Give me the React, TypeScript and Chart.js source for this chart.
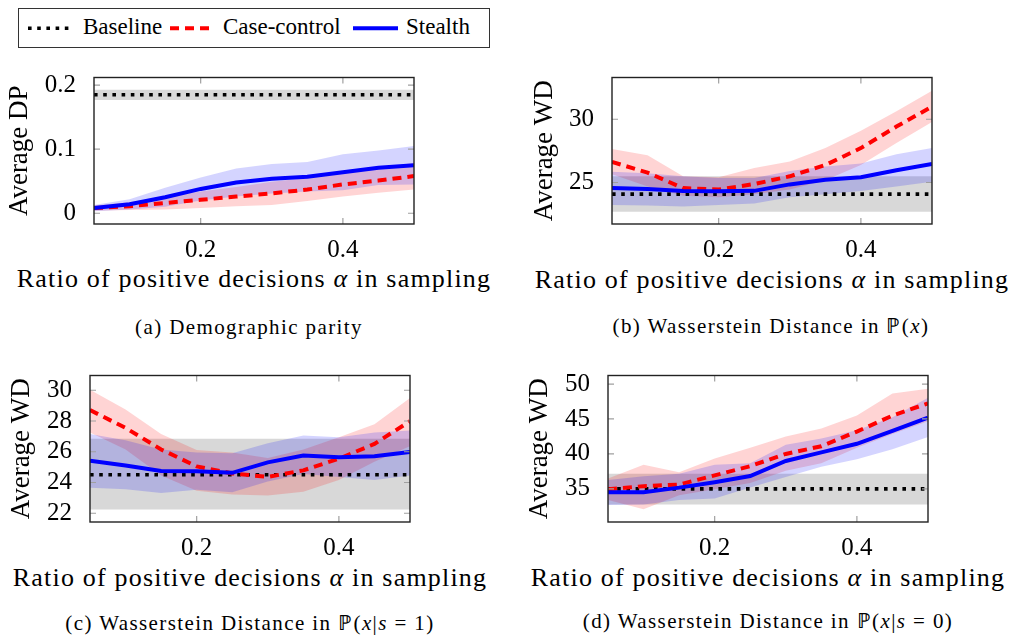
import React, { useEffect, useRef } from 'react';
import { Chart, registerables } from 'chart.js';

Chart.register(...registerables);

const FONT = "'Liberation Serif', 'Times New Roman', serif";

// shared x values (ratio of positive decisions alpha)
const ALPHA = [0.05, 0.1, 0.15, 0.2, 0.25, 0.3, 0.35, 0.4, 0.45, 0.5];
const X_TICKS = [0.2, 0.4];

// (a) Demographic parity
const A_STEALTH = [0.008, 0.014, 0.025, 0.038, 0.048, 0.054, 0.057, 0.064, 0.071, 0.075];
const A_STEALTH_HI = [0.013, 0.022, 0.040, 0.056, 0.070, 0.077, 0.080, 0.092, 0.098, 0.105];
const A_STEALTH_LO = [0.003, 0.006, 0.010, 0.020, 0.026, 0.031, 0.034, 0.036, 0.044, 0.045];
const A_CASE = [0.008, 0.011, 0.016, 0.021, 0.026, 0.031, 0.037, 0.045, 0.051, 0.058];
const A_CASE_HI = [0.012, 0.017, 0.026, 0.034, 0.041, 0.049, 0.055, 0.064, 0.070, 0.079];
const A_CASE_LO = [0.004, 0.005, 0.006, 0.008, 0.011, 0.013, 0.019, 0.026, 0.032, 0.037];
const A_BASE = 0.185;
const A_BASE_HI = 0.193;
const A_BASE_LO = 0.177;
const A_Y_TICKS = [0, 0.1, 0.2];

// (b) Wasserstein distance in P(x)
const B_STEALTH = [24.56, 24.49, 24.32, 24.3, 24.34, 24.85, 25.22, 25.41, 25.97, 26.46];
const B_STEALTH_HI = [25.85, 25.73, 25.49, 25.36, 25.36, 25.9, 26.26, 26.5, 27.23, 27.72];
const B_STEALTH_LO = [23.23, 23.18, 23.1, 23.23, 23.35, 23.83, 24.08, 24.32, 24.68, 25.05];
const B_CASE = [26.63, 25.78, 24.56, 24.44, 24.88, 25.49, 26.38, 27.72, 29.42, 31.0];
const B_CASE_HI = [27.65, 27.16, 25.49, 25.41, 26.14, 26.67, 27.72, 29.1, 30.63, 32.26];
const B_CASE_LO = [25.66, 24.68, 23.96, 23.83, 24.08, 24.44, 25.17, 26.38, 28.13, 29.78];
const B_BASE = 24.08;
const B_BASE_HI = 25.49;
const B_BASE_LO = 22.69;
const B_Y_TICKS = [25, 30];

// (c) Wasserstein distance in P(x|s=1)
const C_STEALTH = [25.41, 25.11, 24.75, 24.73, 24.63, 25.31, 25.75, 25.65, 25.71, 25.99];
const C_STEALTH_HI = [27.15, 26.75, 26.15, 25.95, 25.91, 26.55, 27.05, 26.95, 27.25, 27.39];
const C_STEALTH_LO = [23.66, 23.56, 23.32, 23.52, 23.36, 24.06, 24.55, 24.36, 24.16, 24.46];
const C_CASE = [28.71, 27.55, 26.15, 25.05, 24.59, 24.36, 24.79, 25.55, 26.51, 27.99];
const C_CASE_HI = [30.04, 28.75, 27.15, 26.11, 25.95, 25.59, 26.15, 26.95, 27.79, 29.5];
const C_CASE_LO = [27.25, 26.15, 24.46, 23.46, 23.22, 23.16, 23.4, 24.16, 25.35, 26.35];
const C_BASE = 24.5;
const C_BASE_HI = 26.85;
const C_BASE_LO = 22.24;
const C_Y_TICKS = [22, 24, 26, 28, 30];

// (d) Wasserstein distance in P(x|s=0)
const D_STEALTH = [34.52, 34.52, 35.18, 35.96, 36.84, 38.99, 40.22, 41.45, 43.29, 45.18];
const D_STEALTH_HI = [36.27, 36.8, 37.15, 38.46, 38.68, 41.32, 42.19, 43.38, 45.26, 48.03];
const D_STEALTH_LO = [32.68, 32.76, 33.42, 33.64, 35.18, 36.71, 38.16, 39.25, 40.66, 42.41];
const D_CASE = [34.96, 35.39, 35.61, 36.93, 38.25, 40.0, 41.1, 43.2, 45.48, 47.24];
const D_CASE_HI = [36.49, 38.46, 37.37, 39.34, 40.88, 42.5, 43.64, 45.48, 48.64, 49.34];
const D_CASE_LO = [33.42, 32.1, 34.08, 34.96, 35.83, 37.59, 38.68, 40.88, 42.85, 44.69];
const D_BASE = 35.0;
const D_BASE_HI = 37.15;
const D_BASE_LO = 32.76;
const D_Y_TICKS = [35, 40, 45, 50];

type Spec = {
  plotLeft: number;
  plotTop: number;
  yMin: number;
  yMax: number;
  yTicks: number[];
  yTitle: string;
  yTitlePad: number;
  stealth: number[];
  stealthHi: number[];
  stealthLo: number[];
  caseC: number[];
  caseHi: number[];
  caseLo: number[];
  base: number;
  baseHi: number;
  baseLo: number;
};

const framePlugin = {
  id: 'frame',
  afterDatasetsDraw(chart: any) {
    const { ctx, chartArea: a, scales } = chart;
    ctx.save();
    ctx.strokeStyle = '#a0a0a0';
    ctx.lineWidth = 1.2;
    const L = 6;
    for (const t of scales.x.ticks) {
      const px = scales.x.getPixelForValue(t.value);
      ctx.beginPath();
      ctx.moveTo(px, a.top);
      ctx.lineTo(px, a.top + L);
      ctx.moveTo(px, a.bottom);
      ctx.lineTo(px, a.bottom - L);
      ctx.stroke();
    }
    for (const t of scales.y.ticks) {
      const py = scales.y.getPixelForValue(t.value);
      ctx.beginPath();
      ctx.moveTo(a.left, py);
      ctx.lineTo(a.left + L, py);
      ctx.moveTo(a.right, py);
      ctx.lineTo(a.right - L, py);
      ctx.stroke();
    }
    ctx.strokeStyle = '#222';
    ctx.lineWidth = 1.4;
    ctx.strokeRect(a.left, a.top, a.right - a.left, a.bottom - a.top);
    ctx.restore();
  },
};

const CW = 425;
const CH = 209;

function Panel({ s }: { s: Spec }) {
  const ref = useRef<HTMLCanvasElement>(null);
  useEffect(() => {
    const pts = (arr: number[]) => ALPHA.map((x, i) => ({ x, y: arr[i] }));
    const flat = (v: number) => ALPHA.map((x) => ({ x, y: v }));
    const band = (data: any, color: string, order: number, fill: any) => ({
      data,
      borderWidth: 0,
      borderColor: 'rgba(0,0,0,0)',
      backgroundColor: color,
      pointRadius: 0,
      fill,
      order,
    });
    const chart = new Chart(ref.current as HTMLCanvasElement, {
      type: 'line',
      data: {
        datasets: [
          { data: pts(s.stealth), borderColor: '#0000ff', borderWidth: 4, pointRadius: 0, fill: false, order: 1 },
          { data: pts(s.caseC), borderColor: '#ff0000', borderWidth: 4, borderDash: [9, 6], pointRadius: 0, fill: false, order: 2 },
          { data: flat(s.base), borderColor: '#000000', borderWidth: 3.6, borderDash: [3.6, 5.6], pointRadius: 0, fill: false, order: 3 },
          band(pts(s.stealthHi), 'rgba(0,0,255,0.17)', 4, '+1'),
          band(pts(s.stealthLo), 'rgba(0,0,0,0)', 4, false),
          band(pts(s.caseHi), 'rgba(255,0,0,0.17)', 5, '+1'),
          band(pts(s.caseLo), 'rgba(0,0,0,0)', 5, false),
          band(flat(s.baseHi), 'rgb(216,216,216)', 6, '+1'),
          band(flat(s.baseLo), 'rgba(0,0,0,0)', 6, false),
        ] as any,
      },
      options: {
        animation: false,
        responsive: false,
        layout: { padding: { top: 10, right: 15, left: 0, bottom: 0 } },
        plugins: { legend: { display: false }, tooltip: { enabled: false } },
        elements: { line: { tension: 0, borderCapStyle: 'butt' } },
        scales: {
          x: {
            type: 'linear',
            min: 0.05,
            max: 0.5,
            grid: { display: false },
            border: { display: false },
            afterBuildTicks: (sc: any) => {
              sc.ticks = X_TICKS.map((v) => ({ value: v }));
            },
            afterFit: (sc: any) => {
              sc.height = 40;
            },
            ticks: {
              autoSkip: false,
              maxRotation: 0,
              padding: 5.5,
              color: '#000',
              font: { family: FONT, size: 25, lineHeight: 1 },
              callback: (v: any) => String(v),
            },
          },
          y: {
            type: 'linear',
            min: s.yMin,
            max: s.yMax,
            grid: { display: false },
            border: { display: false },
            afterBuildTicks: (sc: any) => {
              sc.ticks = s.yTicks.map((v) => ({ value: v }));
            },
            afterFit: (sc: any) => {
              sc.width = 90;
            },
            ticks: {
              autoSkip: false,
              padding: 10,
              color: '#000',
              font: { family: FONT, size: 25, lineHeight: 1 },
              callback: (v: any) => String(v),
            },
            title: {
              display: true,
              text: s.yTitle,
              color: '#000',
              font: { family: FONT, size: 27, lineHeight: 1 },
              padding: { top: s.yTitlePad, bottom: 0 },
            },
          },
        },
      } as any,
      plugins: [framePlugin],
    });
    return () => chart.destroy();
  }, []);
  return (
    <canvas
      ref={ref}
      width={CW}
      height={CH}
      style={{ position: 'absolute', left: s.plotLeft - 90, top: s.plotTop - 10, width: CW, height: CH }}
    />
  );
}

const PANELS: Spec[] = [
  {
    plotLeft: 94, plotTop: 65, yMin: -0.0168, yMax: 0.212, yTicks: A_Y_TICKS, yTitle: 'Average DP', yTitlePad: 2.5,
    stealth: A_STEALTH, stealthHi: A_STEALTH_HI, stealthLo: A_STEALTH_LO,
    caseC: A_CASE, caseHi: A_CASE_HI, caseLo: A_CASE_LO,
    base: A_BASE, baseHi: A_BASE_HI, baseLo: A_BASE_LO,
  },
  {
    plotLeft: 612, plotTop: 65, yMin: 21.72, yMax: 33.3, yTicks: B_Y_TICKS, yTitle: 'Average WD', yTitlePad: 9.5,
    stealth: B_STEALTH, stealthHi: B_STEALTH_HI, stealthLo: B_STEALTH_LO,
    caseC: B_CASE, caseHi: B_CASE_HI, caseLo: B_CASE_LO,
    base: B_BASE, baseHi: B_BASE_HI, baseLo: B_BASE_LO,
  },
  {
    plotLeft: 90, plotTop: 363, yMin: 21.43, yMax: 30.96, yTicks: C_Y_TICKS, yTitle: 'Average WD', yTitlePad: 8.5,
    stealth: C_STEALTH, stealthHi: C_STEALTH_HI, stealthLo: C_STEALTH_LO,
    caseC: C_CASE, caseHi: C_CASE_HI, caseLo: C_CASE_LO,
    base: C_BASE, baseHi: C_BASE_HI, baseLo: C_BASE_LO,
  },
  {
    plotLeft: 608, plotTop: 363, yMin: 30.26, yMax: 51.22, yTicks: D_Y_TICKS, yTitle: 'Average WD', yTitlePad: 8.5,
    stealth: D_STEALTH, stealthHi: D_STEALTH_HI, stealthLo: D_STEALTH_LO,
    caseC: D_CASE, caseHi: D_CASE_HI, caseLo: D_CASE_LO,
    base: D_BASE, baseHi: D_BASE_HI, baseLo: D_BASE_LO,
  },
];

const X_TITLE_POS = [
  { cx: 254, base: 287.5 },
  { cx: 772, base: 288.3 },
  { cx: 250, base: 586.7 },
  { cx: 768, base: 586.7 },
];

const CAPTIONS: { cx: number; base: number; node: React.ReactNode }[] = [
  { cx: 249, base: 334.3, node: <>(a) Demographic parity</> },
  { cx: 771, base: 333.3, node: <>(b) Wasserstein Distance in ℙ(<i>x</i>)</> },
  { cx: 250, base: 630, node: <>(c) Wasserstein Distance in ℙ(<i>x</i>|<i>s</i> = 1)</> },
  { cx: 768, base: 628.3, node: <>(d) Wasserstein Distance in ℙ(<i>x</i>|<i>s</i> = 0)</> },
];

const LEGEND_ITEMS = [
  { label: 'Baseline', color: '#000', width: 3.6, dash: '3.6 5.6', x1: 28, x2: 72, tx: 83 },
  { label: 'Case-control', color: '#ff0000', width: 4, dash: '9 6', x1: 170, x2: 210, tx: 223 },
  { label: 'Stealth', color: '#0000ff', width: 4, dash: '', x1: 353, x2: 398, tx: 406 },
];

export default function App() {
  return (
    <div style={{ position: 'absolute', left: 0, top: 0, width: 1011, height: 639, background: '#fff', overflow: 'hidden', fontFamily: FONT, color: '#000' }}>
      {/* legend */}
      <div style={{ position: 'absolute', left: 18, top: 8, width: 472, height: 40, border: '1.5px solid #333', boxSizing: 'border-box' }} />
      {LEGEND_ITEMS.map((it) => (
        <React.Fragment key={it.label}>
          <svg style={{ position: 'absolute', left: it.x1, top: 23, width: it.x2 - it.x1, height: 10 }} width={it.x2 - it.x1} height={10}>
            <line x1={0} y1={5.3} x2={it.x2 - it.x1} y2={5.3} stroke={it.color} strokeWidth={it.width} strokeDasharray={it.dash || undefined} />
          </svg>
          <div style={{ position: 'absolute', left: it.tx, top: 12.5, fontSize: 23, lineHeight: '28px', whiteSpace: 'nowrap' }}>{it.label}</div>
        </React.Fragment>
      ))}
      {PANELS.map((p, i) => (
        <Panel key={i} s={p} />
      ))}
      {X_TITLE_POS.map((t, i) => (
        <div key={'xt' + i} style={{ position: 'absolute', left: t.cx - 260, top: t.base - 23.8, width: 520, textAlign: 'center', fontSize: 26, lineHeight: '30px', letterSpacing: '1.2px', whiteSpace: 'nowrap' }}>
          Ratio of positive decisions <i>α</i> in sampling
        </div>
      ))}
      {CAPTIONS.map((c, i) => (
        <div key={'cap' + i} style={{ position: 'absolute', left: c.cx - 260, top: c.base - 19.1, width: 520, textAlign: 'center', fontSize: 21, lineHeight: '24px', letterSpacing: '1.4px', whiteSpace: 'nowrap' }}>
          {c.node}
        </div>
      ))}
    </div>
  );
}
